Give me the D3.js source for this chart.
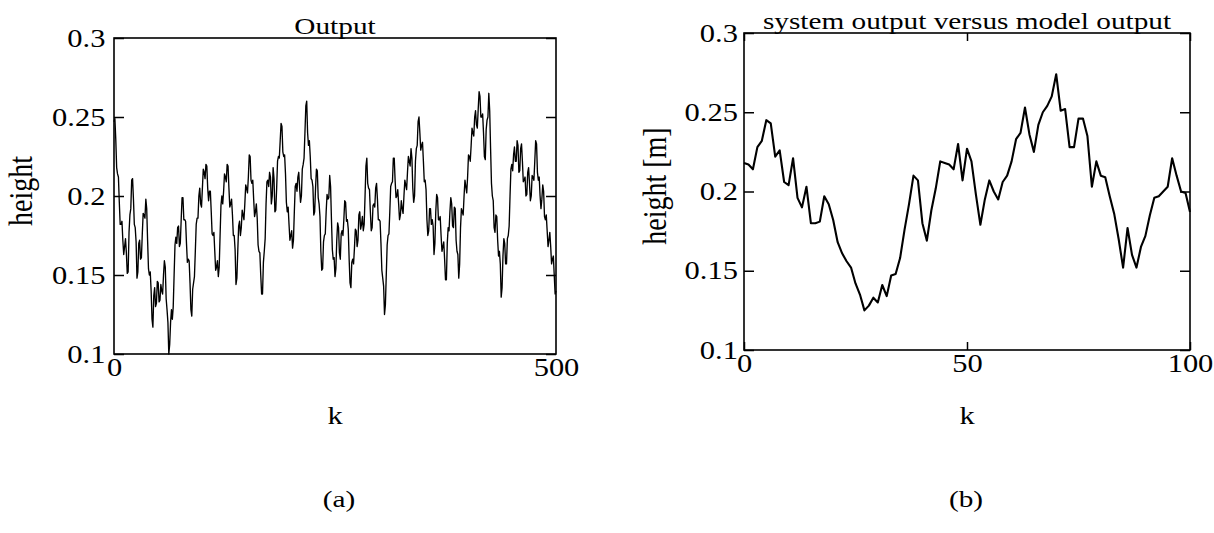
<!DOCTYPE html>
<html>
<head>
<meta charset="utf-8">
<script src="https://cdn.jsdelivr.net/npm/d3@7"></script>
<style>
  body { margin: 0; background: #fff; }
  svg { display: block; }
  text { font-family: "Liberation Serif", "Times New Roman", serif; fill: #000; }
</style>
</head>
<body>
<svg id="chart" width="1214" height="533"></svg>
<script>
// Panel (a): measured water height, one value per step k = 0..500
const outputHeight = [
  0.247,0.249,0.236,0.218,0.214,0.212,0.196,0.182,0.182,0.184,0.172,0.163,0.168,0.173,0.164,0.151,0.152,0.177,0.188,0.192,
  0.210,0.211,0.198,0.182,0.180,0.171,0.148,0.152,0.170,0.172,0.160,0.161,0.176,0.189,0.188,0.186,0.198,0.192,0.172,0.154,
  0.150,0.152,0.140,0.122,0.117,0.137,0.142,0.130,0.132,0.146,0.145,0.133,0.134,0.144,0.140,0.138,0.150,0.159,0.155,0.135,
  0.128,0.120,0.100,0.106,0.120,0.128,0.122,0.130,0.150,0.169,0.174,0.170,0.180,0.181,0.168,0.170,0.185,0.199,0.199,0.185,
  0.185,0.184,0.170,0.158,0.160,0.159,0.145,0.128,0.124,0.141,0.145,0.149,0.165,0.182,0.186,0.186,0.200,0.205,0.195,0.193,
  0.205,0.217,0.215,0.211,0.220,0.219,0.205,0.197,0.203,0.203,0.190,0.176,0.175,0.177,0.165,0.153,0.155,0.159,0.149,0.155,
  0.175,0.194,0.200,0.195,0.203,0.214,0.212,0.209,0.220,0.219,0.205,0.193,0.195,0.198,0.188,0.175,0.175,0.166,0.144,0.148,
  0.165,0.181,0.184,0.175,0.180,0.191,0.188,0.185,0.195,0.207,0.205,0.202,0.212,0.226,0.225,0.210,0.208,0.210,0.198,0.187,
  0.190,0.195,0.186,0.169,0.165,0.164,0.150,0.138,0.138,0.158,0.165,0.173,0.195,0.209,0.210,0.206,0.215,0.212,0.195,0.200,
  0.218,0.211,0.190,0.191,0.205,0.222,0.225,0.224,0.235,0.246,0.244,0.228,0.225,0.226,0.214,0.196,0.190,0.193,0.182,0.172,
  0.175,0.178,0.167,0.172,0.190,0.206,0.208,0.203,0.212,0.215,0.205,0.196,0.200,0.217,0.220,0.224,0.240,0.257,0.260,0.240,
  0.232,0.235,0.225,0.211,0.210,0.206,0.188,0.190,0.205,0.217,0.216,0.199,0.195,0.187,0.165,0.153,0.154,0.171,0.175,0.176,
  0.190,0.201,0.198,0.199,0.213,0.206,0.185,0.166,0.160,0.161,0.149,0.154,0.172,0.183,0.180,0.164,0.160,0.176,0.178,0.175,
  0.185,0.197,0.196,0.184,0.185,0.179,0.160,0.145,0.142,0.158,0.160,0.157,0.167,0.179,0.178,0.168,0.172,0.188,0.190,0.179,
  0.182,0.187,0.178,0.182,0.200,0.219,0.224,0.208,0.205,0.204,0.190,0.178,0.180,0.194,0.195,0.193,0.205,0.208,0.198,0.185,
  0.185,0.184,0.170,0.153,0.148,0.143,0.125,0.131,0.150,0.169,0.175,0.176,0.190,0.206,0.208,0.209,0.224,0.224,0.210,0.199,
  0.200,0.204,0.195,0.185,0.188,0.197,0.192,0.189,0.200,0.210,0.207,0.204,0.215,0.225,0.222,0.219,0.230,0.224,0.205,0.196,
  0.200,0.222,0.230,0.232,0.247,0.250,0.240,0.229,0.232,0.234,0.222,0.209,0.210,0.204,0.185,0.175,0.178,0.192,0.192,0.182,
  0.185,0.181,0.163,0.170,0.190,0.201,0.199,0.185,0.185,0.187,0.175,0.165,0.168,0.171,0.160,0.147,0.147,0.170,0.180,0.178,
  0.190,0.199,0.195,0.181,0.180,0.193,0.192,0.172,0.165,0.163,0.148,0.157,0.180,0.192,0.190,0.188,0.200,0.210,0.206,0.202,
  0.212,0.226,0.225,0.222,0.232,0.243,0.240,0.238,0.250,0.254,0.245,0.243,0.255,0.266,0.263,0.250,0.250,0.252,0.240,0.225,
  0.223,0.242,0.248,0.250,0.265,0.254,0.230,0.208,0.200,0.197,0.180,0.177,0.188,0.187,0.172,0.162,0.165,0.157,0.136,0.142,
  0.162,0.173,0.170,0.157,0.157,0.173,0.175,0.181,0.200,0.217,0.220,0.216,0.226,0.231,0.222,0.222,0.235,0.232,0.215,0.216,
  0.230,0.233,0.222,0.209,0.210,0.212,0.200,0.201,0.215,0.218,0.208,0.197,0.200,0.213,0.212,0.210,0.222,0.235,0.233,0.215,
  0.210,0.212,0.200,0.192,0.198,0.207,0.203,0.187,0.185,0.188,0.178,0.168,0.172,0.177,0.168,0.157,0.160,0.162,0.150,0.138,
  0.140
];

// Panel (b): system output, k = 0..100
const systemHeight = [
  0.218,0.217,0.214,0.228,0.232,0.245,0.243,0.222,0.226,0.206,
  0.204,0.221,0.196,0.190,0.203,0.180,0.180,0.181,0.197,0.192,
  0.182,0.168,0.161,0.156,0.152,0.142,0.135,0.125,0.128,0.133,
  0.130,0.141,0.134,0.147,0.148,0.158,0.176,0.192,0.210,0.207,
  0.180,0.169,0.188,0.202,0.219,0.218,0.217,0.214,0.230,0.207,
  0.227,0.219,0.198,0.179,0.195,0.207,0.200,0.195,0.206,0.210,
  0.219,0.233,0.237,0.253,0.236,0.225,0.242,0.250,0.254,0.260,
  0.274,0.251,0.252,0.228,0.228,0.246,0.246,0.235,0.203,0.219,
  0.210,0.209,0.197,0.186,0.170,0.152,0.177,0.160,0.152,0.165,
  0.172,0.185,0.196,0.197,0.200,0.203,0.221,0.210,0.200,0.199,
  0.187
];

// Axis ticks and labels
const yTicks = [0.1, 0.15, 0.2, 0.25, 0.3];
const yTickLabels = ["0.1", "0.15", "0.2", "0.25", "0.3"];
const xTicksA = [0, 500];
const xTickLabelsA = ["0", "500"];
const xTicksB = [0, 50, 100];
const xTickLabelsB = ["0", "50", "100"];

const FONT = "Liberation Serif, Times New Roman, serif";
const STRETCH = 1.22; // glyphs in this figure are set wide

const svg = d3.select("#chart");

function addText(g, x, y, str, size, opts = {}) {
  const rot = opts.rotate ? ` rotate(${opts.rotate})` : "";
  return g.append("text")
    .attr("transform", `translate(${x},${y}) scale(${STRETCH},1)${rot}`)
    .attr("text-anchor", opts.anchor || "middle")
    .attr("font-size", size)
    .attr("font-family", FONT)
    .text(str);
}

function drawPanel(opt) {
  const g = svg.append("g");
  const x = d3.scaleLinear().domain(opt.xDomain).range([opt.left, opt.right]);
  const y = d3.scaleLinear().domain([0.1, 0.3]).range([opt.bottom, opt.top]);
  const labelFor = (vals, labels) => d => labels[vals.indexOf(d)];

  // series
  const line = d3.line()
    .x((d, i) => x(i * opt.step))
    .y(d => y(d));
  g.append("path")
    .datum(opt.values)
    .attr("d", line)
    .attr("fill", "none")
    .attr("stroke", "#000")
    .attr("stroke-width", opt.lineWidth)
    .attr("stroke-linejoin", "round");

  // frame
  g.append("rect")
    .attr("x", opt.left).attr("y", opt.top)
    .attr("width", opt.right - opt.left).attr("height", opt.bottom - opt.top)
    .attr("fill", "none").attr("stroke", "#000").attr("stroke-width", 1.6);

  // left axis: labels outside, ticks pointing inward
  const axL = g.append("g").attr("transform", `translate(${opt.left},0)`)
    .call(d3.axisLeft(y).tickValues(yTicks).tickFormat(labelFor(yTicks, yTickLabels))
      .tickSizeInner(-10).tickSizeOuter(0).tickPadding(opt.yPad));
  // right side inward ticks
  const axR = g.append("g").attr("transform", `translate(${opt.right},0)`)
    .call(d3.axisRight(y).tickValues(yTicks).tickFormat("")
      .tickSizeInner(-10).tickSizeOuter(0));
  // bottom labels and inward ticks
  const axB = g.append("g").attr("transform", `translate(0,${opt.bottom})`)
    .call(d3.axisBottom(x).tickValues(opt.xTicks).tickFormat(labelFor(opt.xTicks, opt.xLabels))
      .tickSizeInner(-opt.xTickLen).tickSizeOuter(0).tickPadding(4));
  const axT = g.append("g").attr("transform", `translate(0,${opt.top})`)
    .call(d3.axisTop(x).tickValues(opt.xTicks).tickFormat("")
      .tickSizeInner(-opt.xTickLen).tickSizeOuter(0));

  [axL, axR, axB, axT].forEach(a => {
    a.select(".domain").remove();
    a.selectAll("line").attr("stroke", "#000").attr("stroke-width", 1.5);
    a.selectAll("text").attr("font-size", 25).attr("font-family", FONT)
      .attr("fill", "#000").attr("transform", `scale(${STRETCH},1)`);
  });

  // title, axis labels, caption
  addText(g, (opt.left + opt.right) / 2, opt.top - opt.titleGap, opt.title, 24);
  addText(g, opt.yLabelX, opt.yLabelY, opt.yLabel, 28, { rotate: -90 });
  addText(g, (opt.left + opt.right) / 2, 424, "k", 25);
  addText(g, opt.captionX, 507, opt.caption, 24);
}

drawPanel({
  left: 114, right: 556, top: 38, bottom: 354,
  xDomain: [0, 500], xTicks: xTicksA, xLabels: xTickLabelsA, xTickLen: 0,
  values: outputHeight, step: 1, lineWidth: 1.35, yPad: 7,
  title: "Output", titleGap: 4,
  yLabel: "height", yLabelX: 32, yLabelY: 191,
  caption: "(a)", captionX: 339
});

drawPanel({
  left: 744, right: 1190, top: 33, bottom: 350,
  xDomain: [0, 100], xTicks: xTicksB, xLabels: xTickLabelsB, xTickLen: 8,
  values: systemHeight, step: 1, lineWidth: 2.1, yPad: 5,
  title: "system output versus model output", titleGap: 4,
  yLabel: "height [m]", yLabelX: 666, yLabelY: 186,
  caption: "(b)", captionX: 966
});
</script>
</body>
</html>
